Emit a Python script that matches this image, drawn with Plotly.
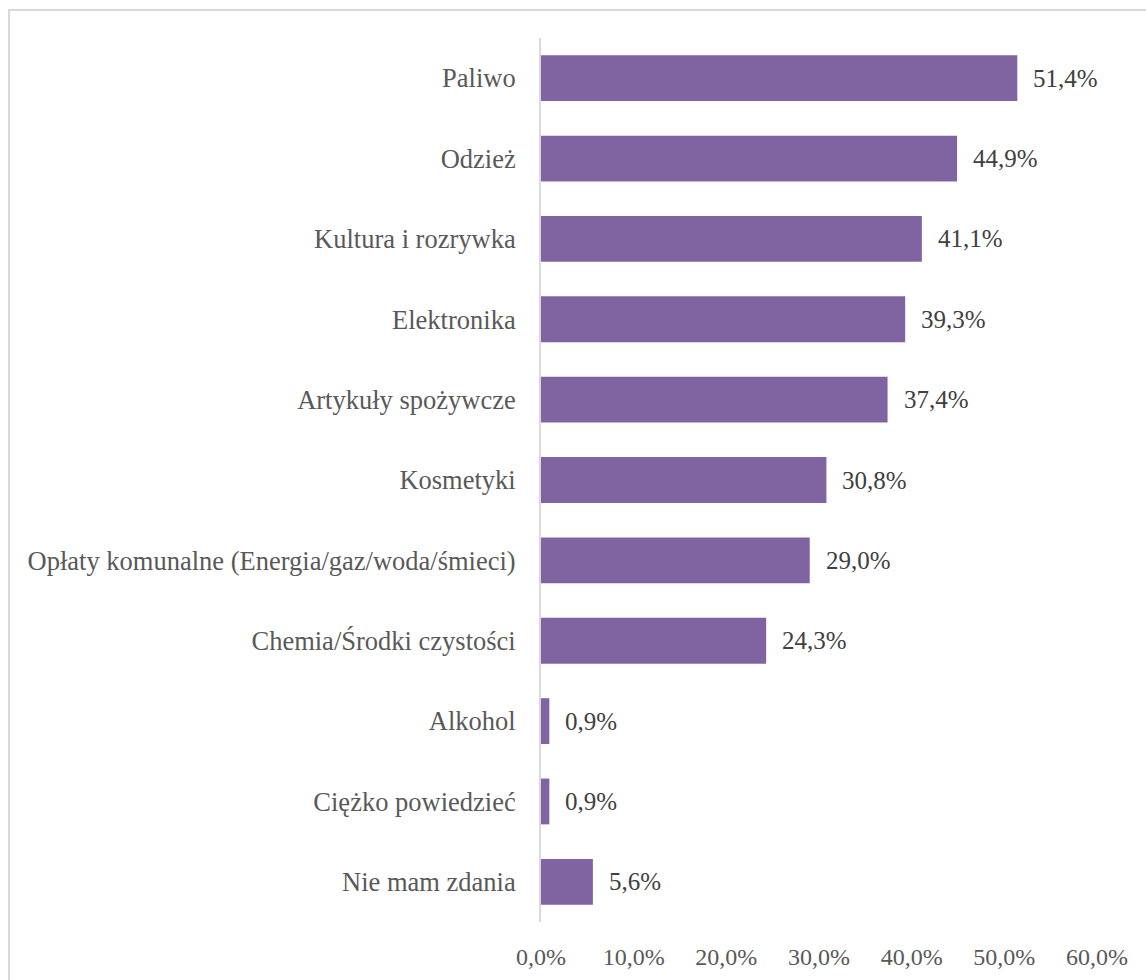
import plotly.graph_objects as go

categories = [
    "Paliwo",
    "Odzież",
    "Kultura i rozrywka",
    "Elektronika",
    "Artykuły spożywcze",
    "Kosmetyki",
    "Opłaty komunalne (Energia/gaz/woda/śmieci)",
    "Chemia/Środki czystości",
    "Alkohol",
    "Ciężko powiedzieć",
    "Nie mam zdania",
]
values = [51.4, 44.9, 41.1, 39.3, 37.4, 30.8, 29.0, 24.3, 0.9, 0.9, 5.6]
tick_vals = [0, 10, 20, 30, 40, 50, 60]
tick_text = ["0,0%", "10,0%", "20,0%", "30,0%", "40,0%", "50,0%", "60,0%"]

W, H = 1146, 980
L, R, T, B = 541, 49, 38, 58
pw, ph = W - L - R, H - T - B

FONT = "Liberation Serif"

fig = go.Figure()
fig.add_trace(go.Bar(
    x=values, y=categories, orientation="h",
    marker=dict(color="#8064A2", line=dict(width=0)),
    width=0.57,
    hoverinfo="skip",
))

for c, v in zip(categories, values):
    fig.add_annotation(
        x=v, y=c, xref="x", yref="y",
        text=f"{v:.1f}".replace(".", ",") + "%",
        showarrow=False, xanchor="left", yanchor="middle", xshift=14,
        font=dict(family=FONT, size=25, color="#404040"),
    )

# outer chart border
fig.add_shape(
    type="rect", xref="paper", yref="paper",
    x0=(9 - L) / pw, x1=(W + 20 - L) / pw,
    y0=(H - B - (H + 20)) / ph, y1=(H - B - 10) / ph,
    line=dict(color="#d9d9d9", width=2), fillcolor="rgba(0,0,0,0)",
    layer="below",
)

fig.update_layout(
    width=W, height=H,
    margin=dict(l=L, r=R, t=T, b=B, autoexpand=False),
    paper_bgcolor="white", plot_bgcolor="white",
    showlegend=False,
    font=dict(family=FONT, color="#595959"),
    xaxis=dict(
        range=[0, 60], tickvals=tick_vals, ticktext=tick_text,
        showgrid=False, zeroline=False, showline=False,
        ticks="", ticklabelstandoff=18,
        tickfont=dict(family=FONT, size=24, color="#595959"),
    ),
    yaxis=dict(
        categoryorder="array", categoryarray=categories[::-1],
        range=[-0.5, len(categories) - 0.5],
        showgrid=False, zeroline=False,
        showline=True, linecolor="#d9d9d9", linewidth=2,
        ticks="", ticklabelstandoff=18,
        tickfont=dict(family=FONT, size=26.5, color="#595959"),
    ),
)

fig.write_html("out.html")
